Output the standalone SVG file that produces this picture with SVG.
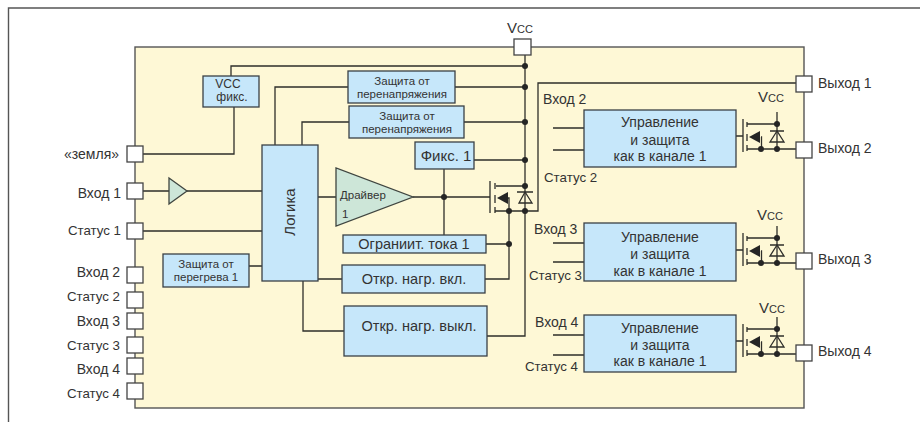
<svg xmlns="http://www.w3.org/2000/svg" width="920" height="422" viewBox="0 0 920 422">
<style>
text{font-family:"Liberation Sans",Arial,sans-serif;fill:#333;font-size:14px}
.s{font-size:11.500px}.c{text-anchor:middle}.e{text-anchor:end}
.t{font-size:13.300px}.w{font-size:14.500px}
.b{fill:#c6e7fa;stroke:#3a4045;stroke-width:1.3}
.g{fill:#cde6d8;stroke:#3f4540;stroke-width:1.3}
.p{fill:#fff;stroke:#444;stroke-width:1.3}
.l{fill:none;stroke:#2e2e2a;stroke-width:1.3}
.d{fill:#252525;stroke:none}
.cc{font-size:11px}
.v{font-size:15px}
</style>
<defs>
<g id="fet">
<path class="l" d="M0 0H7M7-17V16M11-14V-9M11-2V5M11 9V15M11-12H41M11 13H60M25 1H25.500V13M41-24V13M34-5H48"/>
<path class="l" d="M41-5L34 6H48Z"/>
<path class="d" d="M13 1L24-5V7Z"/>
<circle class="d" cx="25" cy="13" r="3"/><circle class="d" cx="41" cy="13" r="3"/><circle class="d" cx="41" cy="-12" r="3"/>
</g>
</defs>
<rect width="920" height="422" fill="#fff"/>
<path d="M8.500 422V8H920" fill="none" stroke="#555" stroke-width="1.400"/>
<rect id="chip" x="135" y="47" width="669" height="361" fill="#fef8d6" stroke="#555" stroke-width="1.400"/>
<g id="connectors">
<path class="l" d="M525 55V336H487M231 76V66H525M234 107V154H143M348 87H275V145M455 87H525M349 122H302V145M464 122H525M474 160H525M444 169V235M318 197H336M413 197H490M143 191H169M187 191H262M143 231H262M249 266H262M318 279H342M303 281V331H344M486 244H509M485 279H509V211"/>
<path class="l" d="M496 186H525M495 211H538V83H796"/>
<path class="l" d="M553 128H584M553 150H584M553 243H584M553 262H584M553 335H584M553 355H584"/>
<path class="l" d="M490 181V213M495 183V189M495 195V203M495 207V213M507 198H509V211"/>
<path class="l" d="M525 192L519 203H532ZM517 192H533"/>
<path class="d" d="M497 198L508 192V204Z"/>
<g class="d"><circle cx="525" cy="66" r="3"/><circle cx="525" cy="87" r="3"/><circle cx="525" cy="122" r="3"/><circle cx="525" cy="160" r="3"/><circle cx="525" cy="186" r="3"/><circle cx="525" cy="211" r="3"/><circle cx="509" cy="211" r="3"/><circle cx="509" cy="244" r="3"/><circle cx="444" cy="197" r="3"/></g>
<use href="#fet" x="736" y="136"/>
<use href="#fet" x="736" y="250"/>
<use href="#fet" x="736" y="341"/>
</g>
<g id="pin-vcc"><rect class="p" x="514" y="39" width="17" height="16"/><text class="c" x="520" y="33"><tspan class="v">V</tspan><tspan class="cc">CC</tspan></text></g>
<g id="pin-gnd"><rect class="p" x="127" y="146" width="16" height="16"/><text class="e" x="119" y="159">«земля»</text></g>
<g id="pin-in1"><rect class="p" x="127" y="183" width="16" height="16"/><text class="e" x="121" y="198">Вход 1</text></g>
<g id="pin-st1"><rect class="p" x="127" y="223" width="16" height="16"/><text class="e t" x="121" y="235">Статус 1</text></g>
<g id="pin-in2"><rect class="p" x="127" y="267" width="16" height="16"/><text class="e" x="120" y="277">Вход 2</text></g>
<g id="pin-st2"><rect class="p" x="127" y="292" width="16" height="16"/><text class="e t" x="120" y="301">Статус 2</text></g>
<g id="pin-in3"><rect class="p" x="127" y="313" width="16" height="16"/><text class="e" x="120" y="326">Вход 3</text></g>
<g id="pin-st3"><rect class="p" x="127" y="337" width="16" height="16"/><text class="e t" x="120" y="350">Статус 3</text></g>
<g id="pin-in4"><rect class="p" x="127" y="358" width="16" height="16"/><text class="e" x="120" y="374">Вход 4</text></g>
<g id="pin-st4"><rect class="p" x="127" y="383" width="16" height="16"/><text class="e t" x="120" y="398">Статус 4</text></g>
<g id="pin-out1"><rect class="p" x="796" y="76" width="16" height="16"/><text x="818" y="88">Выход 1</text></g>
<g id="pin-out2"><rect class="p" x="796" y="142" width="16" height="16"/><text x="818" y="153">Выход 2</text></g>
<g id="pin-out3"><rect class="p" x="796" y="253" width="16" height="16"/><text x="818" y="264">Выход 3</text></g>
<g id="pin-out4"><rect class="p" x="796" y="345" width="16" height="16"/><text x="818" y="356">Выход 4</text></g>
<g id="buf"><path class="g" d="M169 178V204L187 191Z"/></g>
<g id="vcc-fix"><rect class="b" x="203" y="76" width="56" height="31"/><text class="c" style="font-size:12px" x="228" y="87.500">VCC</text><text class="c" style="font-size:12px" x="232" y="101">фикс.</text></g>
<g id="ovp1"><rect class="b" x="348" y="71" width="107" height="32"/><text class="s c" x="402" y="85">Защита от</text><text class="s c" x="402" y="97.500">перенапряжения</text></g>
<g id="ovp2"><rect class="b" x="349" y="106" width="115" height="32"/><text class="s c" x="407" y="120">Защита от</text><text class="s c" x="407" y="132.500">перенапряжения</text></g>
<g id="fix1"><rect class="b" x="415" y="142" width="59" height="27"/><text class="c" x="446" y="161" style="font-size:15px">Фикс. 1</text></g>
<g id="logic"><rect class="b" x="262" y="145" width="56" height="136"/><text class="c" transform="translate(295 212) rotate(-90)" style="font-size:15px">Логика</text></g>
<g id="overheat"><rect class="b" x="163" y="254" width="86" height="33"/><text class="s c" x="206" y="268">Защита от</text><text class="s c" x="206" y="280.500">перегрева 1</text></g>
<g id="driver"><path class="g" d="M336 168V226L413 197Z"/><text class="s" x="340" y="199">Драйвер</text><text class="s" x="342" y="218">1</text></g>
<g id="ilim"><rect class="b" x="343" y="235" width="143" height="18"/><text class="c w" x="414" y="249">Ограниит. тока 1</text></g>
<g id="load-on"><rect class="b" x="342" y="265" width="143" height="28"/><text class="c w" x="414" y="284">Откр. нагр. вкл.</text></g>
<g id="load-off"><rect class="b" x="344" y="306" width="143" height="50"/><text class="c w" x="419" y="331">Откр. нагр. выкл.</text></g>
<g id="ch2"><rect class="b" x="584" y="110" width="152" height="57"/><text class="c" x="660" y="127">Управление</text><text class="c" x="660" y="145">и защита</text><text class="c" x="660" y="161">как в канале 1</text><text x="543" y="104">Вход 2</text><text class="t" x="544" y="182">Статус 2</text><text class="c" x="771" y="102"><tspan class="v">V</tspan><tspan class="cc">CC</tspan></text></g>
<g id="ch3"><rect class="b" x="584" y="223" width="152" height="58"/><text class="c" x="660" y="242">Управление</text><text class="c" x="660" y="259">и защита</text><text class="c" x="660" y="276">как в канале 1</text><text x="534" y="234">Вход 3</text><text class="e t" x="582" y="280">Статус 3</text><text class="c" x="770" y="220"><tspan class="v">V</tspan><tspan class="cc">CC</tspan></text></g>
<g id="ch4"><rect class="b" x="584" y="315" width="152" height="57"/><text class="c" x="660" y="333">Управление</text><text class="c" x="660" y="350">и защита</text><text class="c" x="660" y="366">как в канале 1</text><text x="535" y="327">Вход 4</text><text class="e t" x="578" y="371">Статус 4</text><text class="c" x="772" y="313"><tspan class="v">V</tspan><tspan class="cc">CC</tspan></text></g>
</svg>
